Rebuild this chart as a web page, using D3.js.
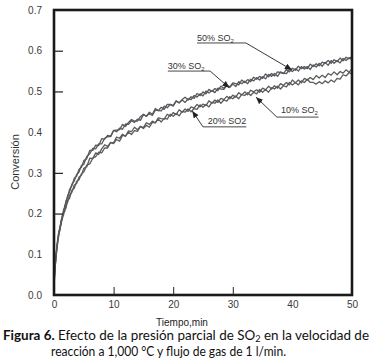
<!DOCTYPE html>
<html><head><meta charset="utf-8">
<script src="https://cdn.jsdelivr.net/npm/d3@7"></script>
<style>body{margin:0;background:#fff;} svg{display:block}</style>
</head><body><svg id="c" width="372" height="364"></svg>
<script>
// ---- data (time in min, conversion) ----
const times = [0,0.1,0.2,0.3,0.4,0.5,0.6,0.8,1.0,1.2,1.4,1.6,1.8,2.0,2.3,2.6,3.0,3.4,3.8,4.2,4.6,
5,5.5,6,6.5,7,7.5,8,8.5,9,9.5,10,10.5,11,11.5,12,12.5,13,13.5,14,14.5,15,15.5,16,16.5,17,17.5,18,18.5,19,19.5,
20,20.5,21,21.5,22,22.5,23,23.5,24,24.5,25,25.5,26,26.5,27,27.5,28,28.5,29,29.5,30,30.5,31,31.5,32,32.5,33,33.5,34,34.5,
35,35.5,36,36.5,37,37.5,38,38.5,39,39.5,40,40.5,41,41.5,42,42.5,43,43.5,44,44.5,45,45.5,46,46.5,47,47.5,48,48.5,49,49.5,50];

const conv50 = [0.030,0.055,0.072,0.095,0.103,0.124,0.131,0.156,0.163,0.184,0.192,0.209,0.214,0.231,0.240,0.259,0.268,0.287,0.292,0.309,0.314,
0.330,0.335,0.355,0.355,0.368,0.367,0.384,0.383,0.392,0.390,
0.404,0.405,0.406,0.419,0.414,0.424,0.431,0.427,0.427,0.438,
0.444,0.439,0.449,0.444,0.458,0.453,0.461,0.456,0.468,0.468,
0.466,0.477,0.472,0.480,0.486,0.479,0.487,0.483,0.495,0.490,
0.499,0.494,0.505,0.500,0.507,0.502,0.513,0.508,0.516,0.511,
0.521,0.519,0.516,0.528,0.522,0.529,0.524,0.535,0.530,0.537,
0.532,0.543,0.536,0.544,0.538,0.548,0.546,0.544,0.554,0.548,
0.557,0.552,0.562,0.556,0.561,0.556,0.567,0.561,0.568,0.563,
0.572,0.569,0.576,0.569,0.578,0.573,0.582,0.575,0.584,0.580,
0.586];

const conv30 = [0.025,0.048,0.075,0.088,0.110,0.117,0.135,0.150,0.168,0.178,0.196,0.203,0.219,0.225,0.245,0.252,0.272,0.280,0.296,0.302,0.318,
0.321,0.340,0.347,0.360,0.359,0.371,0.371,0.385,0.389,0.389,
0.404,0.401,0.410,0.407,0.420,0.419,0.428,0.424,0.432,0.429,
0.443,0.439,0.446,0.441,0.454,0.453,0.452,0.464,0.460,0.468,
0.464,0.476,0.472,0.479,0.473,0.482,0.480,0.490,0.486,0.494,
0.489,0.501,0.496,0.502,0.497,0.508,0.506,0.505,0.515,0.510,
0.518,0.512,0.524,0.519,0.525,0.519,0.530,0.526,0.534,0.528,
0.536,0.531,0.542,0.537,0.544,0.537,0.548,0.545,0.544,0.554,
0.549,0.556,0.550,0.561,0.555,0.561,0.554,0.565,0.560,0.569,
0.562,0.571,0.564,0.576,0.569,0.576,0.570,0.581,0.576,0.583,
0.578];

const conv20 = [0.030,0.058,0.066,0.092,0.100,0.121,0.125,0.153,0.158,0.181,0.186,0.203,0.205,0.221,0.228,0.245,0.252,0.270,0.274,0.290,0.294,
0.311,0.315,0.336,0.335,0.349,0.345,0.359,0.369,0.365,0.374,
0.374,0.388,0.385,0.395,0.390,0.403,0.401,0.412,0.406,0.414,
0.411,0.423,0.419,0.427,0.423,0.435,0.433,0.432,0.444,0.439,
0.448,0.443,0.455,0.449,0.457,0.451,0.462,0.459,0.468,0.462,
0.469,0.465,0.477,0.471,0.479,0.473,0.483,0.480,0.488,0.482,
0.491,0.486,0.497,0.491,0.499,0.492,0.503,0.499,0.504,0.498,
0.508,0.504,0.513,0.506,0.514,0.508,0.519,0.515,0.522,0.516,
0.528,0.521,0.528,0.521,0.532,0.528,0.534,0.529,0.539,0.533,
0.540,0.534,0.544,0.540,0.548,0.541,0.549,0.545,0.553,0.547,
0.556];

const conv10 = [0.026,0.044,0.070,0.084,0.104,0.112,0.129,0.145,0.165,0.173,0.192,0.196,0.211,0.213,0.233,0.237,0.257,0.262,0.279,0.283,0.298,
0.302,0.319,0.322,0.336,0.340,0.351,0.349,0.361,0.361,0.375,
0.372,0.382,0.378,0.392,0.390,0.400,0.394,0.404,0.402,0.414,
0.409,0.417,0.412,0.424,0.423,0.432,0.425,0.434,0.432,0.444,
0.439,0.446,0.440,0.451,0.449,0.457,0.450,0.458,0.456,0.467,
0.461,0.468,0.462,0.473,0.471,0.479,0.471,0.479,0.476,0.487,
0.482,0.489,0.482,0.493,0.490,0.497,0.490,0.498,0.494,0.505,
0.498,0.505,0.498,0.509,0.506,0.513,0.506,0.514,0.511,0.522,
0.516,0.522,0.516,0.526,0.522,0.530,0.522,0.522,0.518,0.524,
0.519,0.526,0.521,0.528,0.523,0.532,0.530,0.541,0.538,0.546,
0.543];

const xTickValues = [0,10,20,30,40,50];
const yTickValues = [0.0,0.1,0.2,0.3,0.4,0.5,0.6,0.7];
const xTickMarks = [10,20,30];
const yTickMarks = [0.2,0.3,0.5,0.6];

// annotation label / arrow positions (data units)
const annoLabels = ["50% SO", "30% SO", "20% SO2", "10% SO"];
const annoSub = ["2","2","","2"];
const annoText = [[24.0,0.624],[19.1,0.555],[25.8,0.420],[38.1,0.446]];
const annoElbow = [[32.2,0.619],[26.2,0.550],[25.0,0.413],[37.4,0.437]];
const annoTip = [[39.9,0.553],[29.4,0.509],[23.2,0.452],[33.9,0.486]];

// ---- chart ----
const svg = d3.select("#c");
const x = d3.scaleLinear().domain([0,50]).range([54,352]);
const y = d3.scaleLinear().domain([0,0.7]).range([295,10]);

svg.append("defs").append("marker")
  .attr("id","arr").attr("markerUnits","userSpaceOnUse")
  .attr("markerWidth",8).attr("markerHeight",6)
  .attr("refX",7).attr("refY",3).attr("orient","auto")
  .append("path").attr("d","M0,0 L7,3 L0,6 Z").attr("fill","#222");

// curves
const series = [conv10, conv20, conv30, conv50];
const colors = ["#5d5a60","#585d58","#5a5860","#555a5c"];
const line = d3.line().x((d,i)=>x(times[i])).y(d=>y(d));
series.forEach((s,k)=>{
  svg.append("path").datum(s).attr("d",line)
    .attr("fill","none").attr("stroke",colors[k])
    .attr("stroke-width",1.3).attr("stroke-linejoin","round");
});

// frame
svg.append("rect").attr("x",x(0)).attr("y",y(0.7))
  .attr("width",x(50)-x(0)).attr("height",y(0)-y(0.7))
  .attr("fill","none").attr("stroke","#1a1a1a").attr("stroke-width",2.6);

// tick labels
const labFont = "'Liberation Sans', Arial, sans-serif";
const yAx = svg.append("g").attr("transform",`translate(${x(0)},0)`)
  .call(d3.axisLeft(y).tickValues(yTickValues).tickSize(0).tickPadding(12).tickFormat(d3.format(".1f")));
const xAx = svg.append("g").attr("transform",`translate(0,${y(0)})`)
  .call(d3.axisBottom(x).tickValues(xTickValues).tickSize(0).tickPadding(6).tickFormat(d3.format("d")));
[yAx,xAx].forEach(g=>{
  g.select(".domain").remove();
  g.selectAll("text").attr("font-family",labFont).attr("font-size",10).attr("fill","#3a3a3a");
});

// inward tick marks
svg.append("g").attr("transform",`translate(${x(0)},0)`)
  .call(d3.axisLeft(y).tickValues(yTickMarks).tickSize(-9).tickFormat(""))
  .call(g=>g.select(".domain").remove())
  .selectAll("line").attr("stroke","#222").attr("stroke-width",1.2);
svg.append("g").attr("transform",`translate(0,${y(0)})`)
  .call(d3.axisBottom(x).tickValues(xTickMarks).tickSize(-8).tickFormat(""))
  .call(g=>g.select(".domain").remove())
  .selectAll("line").attr("stroke","#222").attr("stroke-width",1);

// axis titles
svg.append("text").attr("transform",`translate(19,162) rotate(-90)`)
  .attr("text-anchor","middle").attr("font-family",labFont).attr("font-size",11)
  .attr("fill","#333").text("Conversión");
svg.append("text").attr("x",182).attr("y",326).attr("text-anchor","middle")
  .attr("font-family",labFont).attr("font-size",10).attr("fill","#222").text("Tiempo,min");

// annotations
annoLabels.forEach((lab,i)=>{
  const [tx,ty] = annoText[i], [ex,ey] = annoElbow[i], [px,py] = annoTip[i];
  const t = svg.append("text").attr("x",x(tx)).attr("y",y(ty))
    .attr("font-family",labFont).attr("font-size",9).attr("fill","#333");
  t.append("tspan").text(lab);
  if (annoSub[i]) t.append("tspan").attr("dy",2).attr("font-size",6).text(annoSub[i]);
  const bb = t.node().getBBox();
  const uy = y(ey);
  const left = Math.min(bb.x, x(ex)), right = Math.max(bb.x+bb.width, x(ex));
  svg.append("line").attr("x1",left).attr("x2",right).attr("y1",uy).attr("y2",uy)
    .attr("stroke","#333").attr("stroke-width",0.9);
  svg.append("line").attr("x1",x(ex)).attr("y1",uy).attr("x2",x(px)).attr("y2",y(py))
    .attr("stroke","#222").attr("stroke-width",0.9).attr("marker-end","url(#arr)");
});

// caption
const capFont = "Lato, 'Open Sans', sans-serif";
const c1 = svg.append("text").attr("x",3).attr("y",340).attr("font-family",capFont)
  .attr("font-size",12.5).attr("fill","#111").attr("textLength",366).attr("lengthAdjust","spacingAndGlyphs");
c1.append("tspan").attr("font-weight","bold").text("Figura 6.");
c1.append("tspan").text(" Efecto de la presión parcial de SO");
c1.append("tspan").attr("font-size",8.5).attr("dy",2).text("2");
c1.append("tspan").attr("dy",-2).text(" en la velocidad de");
svg.append("text").attr("x",51).attr("y",356).attr("font-family",capFont)
  .attr("font-size",12.5).attr("fill","#111").attr("textLength",235).attr("lengthAdjust","spacingAndGlyphs")
  .text("reacción a 1,000 °C y flujo de gas  de 1 l/min.");
</script></body></html>
